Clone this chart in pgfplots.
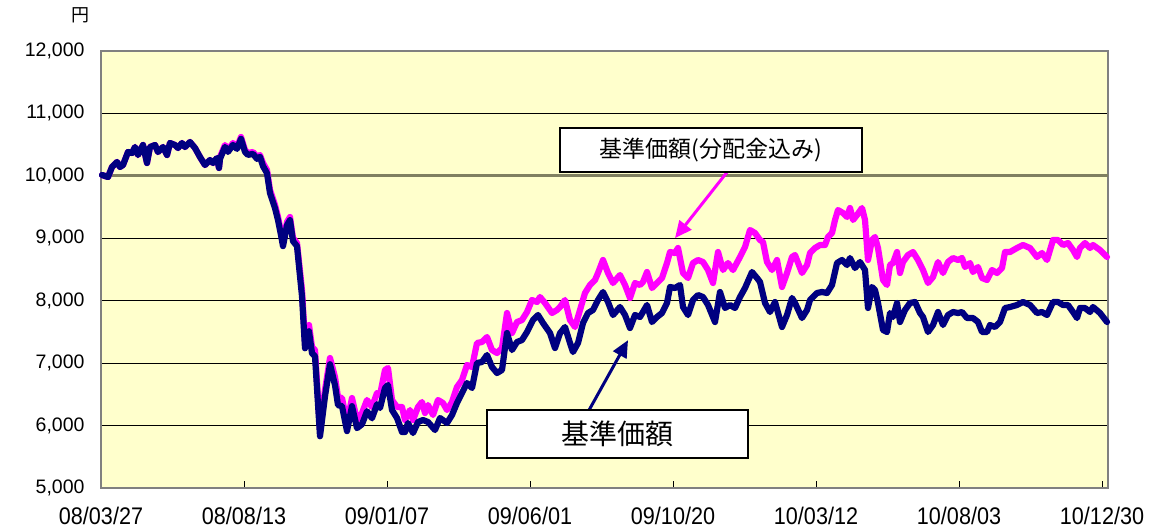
\documentclass[border=0pt]{standalone}
\usepackage{pgfplots}
\pgfplotsset{compat=1.18}
\usetikzlibrary{arrows.meta}
\usepackage{fontspec}
\setmainfont{Liberation Sans}
\newfontfamily\cjk{Noto Sans CJK JP}
\newfontfamily\narrowfont[FakeStretch=0.9]{Liberation Sans}
\definecolor{bg}{HTML}{FFFFCC}
\definecolor{navyline}{HTML}{000080}
\definecolor{mag}{HTML}{FF00FF}
\definecolor{tenk}{HTML}{808060}
\definecolor{frame}{HTML}{808080}

\begin{document}
\begin{tikzpicture}[x=1pt,y=1pt]
\path[use as bounding box] (-101,-41) rectangle (1065,488.2);
\begin{axis}[
  at={(0,0)}, anchor=south west,
  scale only axis, width=1007pt, height=437.5pt,
  xmin=101, xmax=1108, ymin=5000, ymax=12000,
  scaled y ticks=false, scaled x ticks=false,
  axis background/.style={fill=bg},
  axis line style={draw=frame, line width=2pt},
  xtick={101,244,387,530,673,816,959,1102},
  xticklabels={08/03/27,08/08/13,09/01/07,09/06/01,09/10/20,10/03/12,10/08/03,10/12/30},
  ytick={5000,6000,7000,8000,9000,10000,11000,12000},
  yticklabels={{5,000},{6,000},{7,000},{8,000},{9,000},{10,000},{11,000},{12,000}},
  xtick pos=lower, ytick pos=left,
  tick align=inside, major tick length=7pt,
  tick style={black, line width=1pt},
  ymajorgrids, grid style={black, line width=1pt},
  xticklabel style={font=\narrowfont\fontsize{24}{27}\selectfont, yshift=-15pt},
  yticklabel style={font=\fontsize{19.5}{22}\selectfont, xshift=-13pt},
  clip=false,
]
\addplot[tenk, line width=2.5pt, forget plot] coordinates {(101,10000) (1108,10000)};
% 基準価額（分配金込み）
\addplot[mag, line width=6.2pt, line join=round, line cap=round] coordinates {
(102,10011)(108,9979)(112,10139)(117,10219)(120,10139)(123,10171)(128,10379)(132,10363)(135,10459)(138,10331)
(143,10491)(147,10203)(150,10459)(155,10491)(158,10379)(163,10459)(167,10331)(170,10523)(175,10491)(178,10443)
(182,10523)(185,10459)(190,10539)(195,10443)(200,10299)(205,10171)(210,10251)(213,10203)(217,10283)(219,10123)
(220,10299)(225,10491)(228,10411)(233,10523)(237,10459)(241,10619)(245,10411)(248,10363)(253,10379)(257,10299)(260,10331)
(263,10203)(267,10091)(270,9771)(275,9531)(278,9339)(281,9099)(283,8923)(287,9259)(290,9339)(293,9003)(297,8923)
(302,8171)(305,7339)(309,7611)(312,7259)(315,7211)(320,5931)(325,6571)(330,7083)(335,6779)(338,6459)(342,6443)
(347,6043)(352,6443)(357,6091)(362,6203)(367,6411)(372,6299)(377,6523)
(380,6491)(385,6891)(388,6923)(392,6411)(397,6299)(402,6299)(405,6091)(410,6251)(413,6091)(418,6299)(422,6379)
(425,6203)(428,6331)(433,6171)(438,6411)(443,6363)(447,6251)(452,6379)(457,6619)(462,6731)(467,6971)(472,6939)
(477,7323)(482,7339)(487,7419)(492,7211)(497,7163)(502,7243)(507,7803)(512,7483)(517,7659)(522,7691)(527,7819)
(532,8011)(537,7979)(540,8059)(545,7963)(552,7803)(557,7851)(560,7899)(565,8011)(570,7691)(575,7579)(580,7851)
(585,8123)(590,8251)(595,8331)(598,8443)(603,8651)(608,8443)(613,8283)(620,8411)(625,8251)(630,8043)(635,8283)
(640,8251)(643,8299)(647,8459)(652,8203)(657,8283)(662,8363)(667,8603)(670,8779)(675,8763)(678,8843)(683,8443)
(688,8363)(693,8603)(698,8651)(703,8619)(708,8491)(713,8283)(718,8779)(723,8491)(728,8603)(733,8491)(740,8699)
(745,8859)(750,9131)(755,9083)(760,8971)(763,8939)(767,8619)(772,8491)(777,8651)(782,8219)(787,8443)(792,8699)
(795,8731)(802,8443)(807,8571)(810,8763)(815,8843)(820,8891)(825,8891)(828,9019)(832,9083)(835,9291)(838,9451)
(843,9403)(847,9339)(850,9483)(853,9291)(857,9371)(862,9483)(865,9291)(868,8651)(872,8971)(875,9019)(878,8843)
(883,8331)(887,8251)(890,8571)(893,8603)(897,8779)(900,8443)(903,8619)(908,8731)(913,8779)(918,8651)(923,8491)
(928,8283)(933,8379)(938,8619)(943,8443)(948,8619)(953,8683)(958,8651)(962,8683)(965,8539)(970,8603)(973,8459)
(978,8539)(982,8363)(987,8331)(992,8491)(997,8443)(1002,8523)(1005,8779)(1010,8779)(1017,8843)(1023,8891)
(1030,8843)(1037,8699)(1042,8763)(1047,8651)(1053,8971)(1058,8971)(1063,8891)(1068,8923)(1073,8811)(1077,8699)
(1080,8843)(1085,8923)(1090,8843)(1093,8891)(1100,8811)(1107,8699)
};
% 基準価額
\addplot[navyline, line width=6.2pt, line join=round, line cap=round] coordinates {
(102,10011)(108,9979)(112,10139)(117,10219)(120,10139)(123,10171)(128,10379)(132,10363)(135,10459)(138,10331)
(143,10491)(147,10203)(150,10459)(155,10491)(158,10379)(163,10459)(167,10331)(170,10523)(175,10491)(178,10443)
(182,10523)(185,10459)(190,10539)(195,10443)(200,10299)(205,10171)(210,10251)(213,10203)(217,10283)(219,10123)
(220,10269)(225,10461)(228,10381)(233,10493)(237,10429)(241,10589)(245,10381)(248,10333)(253,10349)(257,10269)(260,10301)
(263,10153)(267,10041)(270,9721)(275,9481)(278,9289)(281,9049)(283,8873)(287,9209)(290,9289)(293,8953)(297,8873)
(302,8071)(305,7239)(309,7511)(312,7159)(315,7111)(320,5831)(325,6471)(330,6983)
(335,6649)(338,6329)(342,6313)(347,5913)(352,6313)(357,5961)
(362,6023)(367,6231)(372,6119)(377,6343)
(380,6283)(385,6603)(388,6651)(392,6251)(397,6123)(402,5899)(405,5899)(408,6043)(413,5883)(418,6059)(423,6091)
(428,6059)(435,5931)(440,6123)(447,6043)(452,6171)(457,6363)(462,6523)(467,6683)(472,6603)(477,7003)(482,7019)
(487,7131)(492,6939)(497,6843)(502,6891)(507,7483)(512,7211)(517,7339)(522,7371)(527,7499)(533,7691)(538,7771)
(543,7643)(550,7483)(555,7243)(560,7480)(565,7579)(570,7323)(573,7179)(578,7323)(583,7643)(588,7803)(593,7851)
(598,8011)(603,8139)(608,7979)(613,7771)(620,7899)(625,7771)(630,7563)(635,7771)(640,7739)(647,7931)(652,7659)
(657,7739)(662,7803)(667,7963)(670,8219)(675,8203)(680,8251)(683,7899)(688,7771)(693,8011)(698,8091)(703,8059)
(708,7931)(715,7659)(720,8139)(725,7883)(730,7931)(735,7883)(740,8059)(745,8203)(752,8459)(757,8363)(760,8299)
(765,7963)(770,7819)(775,7979)(782,7579)(787,7771)(792,8043)(795,7963)(802,7723)(807,7851)(810,8011)(817,8123)
(822,8139)(827,8123)(832,8251)(837,8603)(842,8651)(847,8571)(850,8683)(855,8523)(860,8619)(865,8491)(868,7883)
(872,8219)(875,8171)(878,7963)(883,7531)(887,7499)(890,7803)(893,7739)(897,7963)(900,7659)(905,7851)(910,7963)
(915,7979)(920,7803)(923,7739)(928,7499)(933,7611)(938,7819)(943,7611)(948,7771)(953,7819)(958,7803)(962,7819)
(967,7723)(973,7723)(978,7659)(982,7499)(987,7499)(990,7611)(995,7579)(1000,7659)(1005,7883)(1010,7899)
(1017,7931)(1023,7979)(1030,7931)(1037,7803)(1042,7819)(1047,7771)(1053,7979)(1058,7979)(1063,7931)(1068,7931)
(1073,7819)(1077,7723)(1080,7883)(1085,7883)(1090,7819)(1093,7899)(1100,7803)(1107,7659)
};
\end{axis}
% unit label
\node[font=\cjk\fontsize{18}{20}\selectfont] at (-21,473) {円};
% callouts
\draw[mag, line width=3pt, -{Triangle[length=17pt,width=15pt]}] (626,316) -- (574,250);
\draw[navyline, line width=3pt, -{Triangle[length=17pt,width=15pt]}] (488,78) -- (527,148);
\draw[black, line width=1.5pt, fill=white] (459,316.2) rectangle (761,360.2);
\node[font=\cjk\fontsize{23}{26}\selectfont] at (610,338) {基準価額(分配金込み)};
\draw[black, line width=1.5pt, fill=white] (386,30.2) rectangle (647,78.2);
\node[font=\cjk\fontsize{28}{32}\selectfont] at (516.5,54) {基準価額};
\end{tikzpicture}
\end{document}
